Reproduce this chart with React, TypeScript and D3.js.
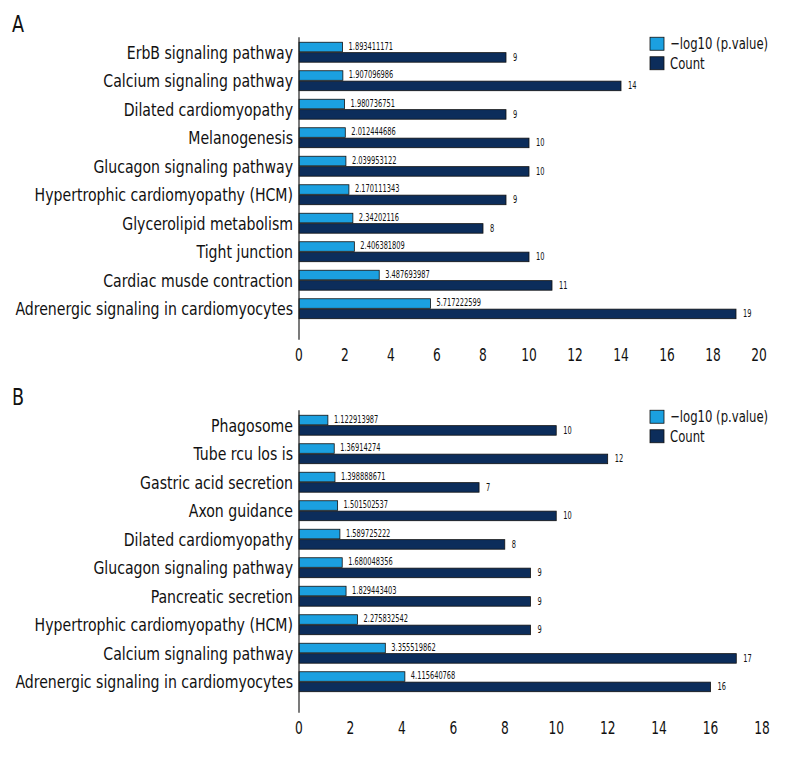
import React, { useRef, useEffect } from "react";
import * as d3 from "d3";

const pathwaysA = [
    "ErbB signaling pathway",
    "Calcium signaling pathway",
    "Dilated cardiomyopathy",
    "Melanogenesis",
    "Glucagon signaling pathway",
    "Hypertrophic cardiomyopathy (HCM)",
    "Glycerolipid metabolism",
    "Tight junction",
    "Cardiac musde contraction",
    "Adrenergic signaling in cardiomyocytes",
];
const pValuesA = [
    1.893411171, 1.907096986, 1.980736751, 2.012444686, 2.039953122,
    2.170111343, 2.34202116, 2.406381809, 3.487693987, 5.717222599,
];
const countsA = [9, 14, 9, 10, 10, 9, 8, 10, 11, 19];
const ticksA = [0, 2, 4, 6, 8, 10, 12, 14, 16, 18, 20];

const pathwaysB = [
    "Phagosome",
    "Tube rcu los is",
    "Gastric acid secretion",
    "Axon guidance",
    "Dilated cardiomyopathy",
    "Glucagon signaling pathway",
    "Pancreatic secretion",
    "Hypertrophic cardiomyopathy (HCM)",
    "Calcium signaling pathway",
    "Adrenergic signaling in cardiomyocytes",
];
const pValuesB = [
    1.122913987, 1.36914274, 1.398888671, 1.501502537, 1.589725222,
    1.680048356, 1.829443403, 2.275832542, 3.355519862, 4.115640768,
];
const countsB = [10, 12, 7, 10, 8, 9, 9, 9, 17, 16];
const ticksB = [0, 2, 4, 6, 8, 10, 12, 14, 16, 18];

const seriesNames = ["−log10 (p.value)", "Count"];
const LIGHT = "#1ba0e0";
const DARK = "#0c2d5b";
const FONT = "'Liberation Sans Narrow', 'DejaVu Sans Condensed', sans-serif";

type Panel = {
    letter: string;
    names: string[];
    pvals: number[];
    counts: number[];
    ticks: number[];
    top: number;
    xMax: number;
    xRight: number;
};

// squeeze text horizontally so it looks like a condensed face
const condense = (sel: d3.Selection<SVGTextElement, any, any, any>, k: number) => {
    sel.each(function () {
        const len = this.getComputedTextLength();
        if (len > 0) {
            d3.select(this).attr("textLength", len * k).attr("lengthAdjust", "spacingAndGlyphs");
        }
    });
};

const App = () => {
    const svgRef = useRef<SVGSVGElement>(null);

    useEffect(() => {
        if (!svgRef.current) return;
        document.body.style.margin = "0";

        const svg = d3.select(svgRef.current);
        svg.selectAll("*").remove();

        const panels: Panel[] = [
            { letter: "A", names: pathwaysA, pvals: pValuesA, counts: countsA, ticks: ticksA, top: 28, xMax: 20, xRight: 759 },
            { letter: "B", names: pathwaysB, pvals: pValuesB, counts: countsB, ticks: ticksB, top: 401, xMax: 18, xRight: 762 },
        ];

        panels.forEach((p) => {
            const g = svg.append("g");
            const x = d3.scaleLinear().domain([0, p.xMax]).range([299, p.xRight]);
            const step = 28.5;
            const y = d3
                .scaleBand<string>()
                .domain(p.names)
                .range([p.top, p.top + step * 10.7])
                .paddingInner(0.3)
                .paddingOuter(0.5);
            const sub = d3
                .scaleBand<string>()
                .domain(["p", "c"])
                .range([0, y.bandwidth()])
                .paddingInner(0.08);

            const firstTop = y(p.names[0])!;
            const lastBottom = y(p.names[p.names.length - 1])! + y.bandwidth();

            // panel letter
            g.append("text")
                .attr("x", 12)
                .attr("y", firstTop - 10)
                .style("font-family", FONT)
                .style("font-size", "23px")
                .style("fill", "#111")
                .text(p.letter)
                .call(condense, 0.85);

            // category labels
            g.selectAll(".cat")
                .data(p.names)
                .enter()
                .append("text")
                .attr("x", 293)
                .attr("y", (d) => y(d)! + y.bandwidth() / 2)
                .attr("dy", "0.35em")
                .attr("text-anchor", "end")
                .style("font-family", FONT)
                .style("font-size", "18px")
                .style("fill", "#111")
                .text((d) => d)
                .call(condense, 0.87);

            // p value bars
            g.selectAll(".pbar")
                .data(p.names)
                .enter()
                .append("rect")
                .attr("x", x(0))
                .attr("y", (d) => y(d)! + sub("p")!)
                .attr("width", (_, i) => x(p.pvals[i]) - x(0))
                .attr("height", sub.bandwidth())
                .attr("fill", LIGHT)
                .attr("stroke", "#111")
                .attr("stroke-width", 0.8);

            g.selectAll(".plab")
                .data(p.names)
                .enter()
                .append("text")
                .attr("x", (_, i) => x(p.pvals[i]) + 6)
                .attr("y", (d) => y(d)! + sub("p")! + sub.bandwidth() / 2 - 1)
                .attr("dy", "0.35em")
                .style("font-family", FONT)
                .style("font-size", "10px")
                .style("fill", "#111")
                .text((_, i) => String(p.pvals[i]))
                .call(condense, 0.74);

            // count bars
            g.selectAll(".cbar")
                .data(p.names)
                .enter()
                .append("rect")
                .attr("x", x(0))
                .attr("y", (d) => y(d)! + sub("c")!)
                .attr("width", (_, i) => x(p.counts[i]) - x(0))
                .attr("height", sub.bandwidth())
                .attr("fill", DARK)
                .attr("stroke", "#111")
                .attr("stroke-width", 0.8);

            g.selectAll(".clab")
                .data(p.names)
                .enter()
                .append("text")
                .attr("x", (_, i) => x(p.counts[i]) + 7)
                .attr("y", (d) => y(d)! + sub("c")! + sub.bandwidth() / 2)
                .attr("dy", "0.35em")
                .style("font-family", FONT)
                .style("font-size", "10px")
                .style("fill", "#111")
                .text((_, i) => String(p.counts[i]))
                .call(condense, 0.74);

            // vertical axis line
            g.append("line")
                .attr("x1", x(0))
                .attr("x2", x(0))
                .attr("y1", firstTop - 5)
                .attr("y2", lastBottom + 21)
                .attr("stroke", "#222")
                .attr("stroke-width", 1.2);

            // x tick labels (no axis line)
            g.selectAll(".tick")
                .data(p.ticks)
                .enter()
                .append("text")
                .attr("x", (d) => x(d))
                .attr("y", lastBottom + 42)
                .attr("text-anchor", "middle")
                .style("font-family", FONT)
                .style("font-size", "17px")
                .style("fill", "#111")
                .text((d) => String(d))
                .call(condense, 0.8);

            // legend
            const leg = g.append("g").attr("transform", `translate(650,${firstTop - 5})`);
            seriesNames.forEach((name, i) => {
                leg.append("rect")
                    .attr("x", 0)
                    .attr("y", i * 19.5)
                    .attr("width", 14)
                    .attr("height", 13)
                    .attr("fill", i === 0 ? LIGHT : DARK)
                    .attr("stroke", "#111")
                    .attr("stroke-width", 0.8);
                leg.append("text")
                    .attr("x", 20)
                    .attr("y", i * 19.5 + 6.5)
                    .attr("dy", "0.35em")
                    .style("font-family", FONT)
                    .style("font-size", "16px")
                    .style("fill", "#111")
                    .text(name)
                    .call(condense, 0.81);
            });
        });
    }, []);

    return <svg ref={svgRef} width={800} height={780} style={{ display: "block", background: "#fff" }} />;
};

export default App;
